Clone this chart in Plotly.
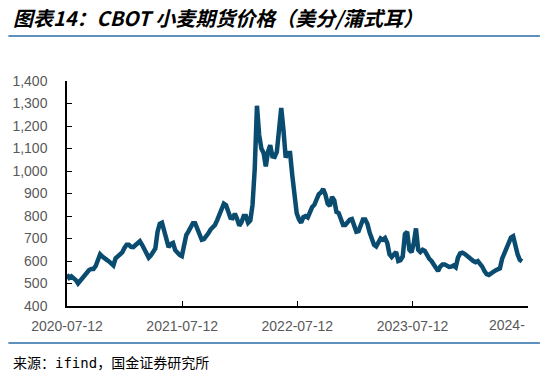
import pandas as pd
import plotly.graph_objects as go

# weekly CBOT wheat futures price (US cents / bushel)
start_date = "2020-07-12"
prices = [
    540, 525, 532, 525, 515, 500, 512, 525, 537, 552,
    560, 565, 565, 578, 600, 630, 620, 615, 605, 598,
    588, 580, 612, 622, 632, 638, 658, 672, 672, 663,
    662, 670, 680, 688, 672, 650, 632, 615, 625, 640,
    656, 730, 765, 770, 728, 692, 662, 675, 680, 648,
    635, 627, 622, 675, 715, 732, 750, 768, 768, 738,
    710, 694, 697, 707, 723, 740, 752, 760, 782, 805,
    828, 855, 848, 815, 792, 790, 810, 788, 757, 772,
    800, 800, 770, 780, 850, 1010, 1290, 1160, 1100, 1080,
    1020, 1085, 1115, 1065, 1063, 1085, 1180, 1280, 1183, 1060,
    1080, 1080, 980, 880, 812, 786, 770, 795, 800, 794,
    820, 840, 850, 873, 897, 905, 920, 895, 855, 845,
    885, 870, 818, 813, 792, 760, 760, 774, 783, 786,
    760, 730, 733, 758, 785, 785, 765, 727, 690, 672,
    665, 688, 700, 694, 702, 680, 630, 618, 632, 640,
    600, 604, 620, 720, 730, 650, 639, 680, 745, 650,
    640, 650, 645, 625, 610, 600, 587, 566, 555, 575,
    585, 585, 580, 574, 575, 580, 572, 615, 634, 637,
    632, 622, 615, 608, 600, 595, 600, 589, 575, 555,
    542, 538, 546, 551, 558, 563, 567, 610, 635, 658,
    688, 704, 710, 662, 630, 605, 598,
]
dates = pd.date_range(start_date, periods=len(prices), freq="W-SUN")

tick_dates = ["2020-07-12", "2021-07-12", "2022-07-12", "2023-07-12", "2024-07-12"]
tick_labels = ["2020-07-12", "2021-07-12", "2022-07-12", "2023-07-12", ""]
last_tick_label = "2024-"

title_text = "图表14：CBOT 小麦期货价格（美分/蒲式耳）"
source_pre, source_latin, source_post = "来源：", "ifind", "，国金证券研究所"

line_color = "#0A4B70"
rule_color = "#2A6CA8"
label_color = "#595959"

fig = go.Figure()
fig.add_trace(go.Scatter(
    x=dates, y=prices, mode="lines",
    line=dict(color=line_color, width=4.5, shape="linear"),
    showlegend=False, hoverinfo="skip",
))

L, R, T, B = 64, 16, 81, 68
W, H = 544, 374
pw, ph = W - L - R, H - T - B

def px(xp):
    return (xp - L) / pw

def py(yp):
    return (H - B - yp) / ph

fig.update_layout(
    width=W, height=H,
    margin=dict(l=L, r=R, t=T, b=B, pad=0),
    paper_bgcolor="white", plot_bgcolor="white",
    font=dict(family="Liberation Sans, Arial, sans-serif", color=label_color),
)

fig.update_xaxes(
    type="date",
    range=["2020-07-12", "2024-07-12"],
    tickvals=tick_dates, ticktext=tick_labels,
    showgrid=False, zeroline=False,
    showline=True, linecolor="black", linewidth=1.5,
    ticks="inside", ticklen=5, tickwidth=1.2, tickcolor="black",
    tickfont=dict(size=14, color=label_color),
    ticklabelstandoff=6,
)
fig.update_yaxes(
    range=[400, 1400], dtick=100, tick0=400,
    tickformat=",",
    showgrid=False, zeroline=False,
    showline=True, linecolor="black", linewidth=1.5,
    ticks="inside", ticklen=5, tickwidth=1.2, tickcolor="black",
    tickfont=dict(size=14, color=label_color),
    ticklabelstandoff=15,
)

# last (clipped) tick label
fig.add_annotation(
    x=tick_dates[-1], xref="x", y=py(325), yref="paper",
    text=last_tick_label, showarrow=False,
    xanchor="right", yanchor="middle", xshift=-1,
    font=dict(size=14, color=label_color, family="Liberation Sans, Arial, sans-serif"),
)

# title
fig.add_annotation(
    x=px(8), xref="paper", y=py(18), yref="paper",
    text="<b><i>" + title_text + "</i></b>", showarrow=False,
    xanchor="left", yanchor="middle",
    font=dict(size=20, color="black", family="Noto Sans CJK SC"),
)
# source
fig.add_annotation(
    x=px(8), xref="paper", y=py(362), yref="paper",
    text=(source_pre + "<span style=\"font-family:'DejaVu Sans Mono'\">"
          + source_latin + "</span>" + source_post),
    showarrow=False,
    xanchor="left", yanchor="middle",
    font=dict(size=14, color="black", family="Noto Sans CJK SC"),
)

# horizontal rules
for yy in (36, 343):
    fig.add_shape(
        type="line", xref="paper", yref="paper",
        x0=px(5), x1=px(540), y0=py(yy), y1=py(yy),
        line=dict(color=rule_color, width=1.5),
    )

fig.write_html("out.html")
